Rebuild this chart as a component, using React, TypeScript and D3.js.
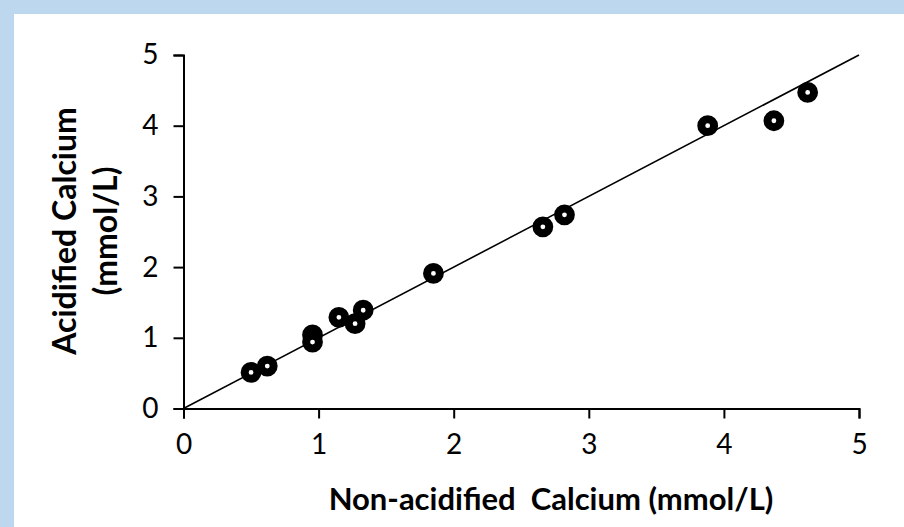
import React, { useEffect, useRef } from "react";
import * as d3 from "d3";

const xValues = [0.5, 0.62, 0.955, 0.955, 1.15, 1.27, 1.33, 1.85, 2.66, 2.82, 3.88, 4.37, 4.62];
const yValues = [0.51, 0.6, 1.04, 0.94, 1.29, 1.2, 1.39, 1.91, 2.57, 2.74, 4.0, 4.07, 4.47];
const xTicks = [0, 1, 2, 3, 4, 5];
const yTicks = [0, 1, 2, 3, 4, 5];
const identityLine = [0, 5];
const xTitle = "Non-acidified\u00a0 Calcium (mmol/L)";
const yTitleLines = ["Acidified Calcium", "(mmol/L)"];

const W = 904;
const H = 527;
const FONT = "Lato, 'Open Sans', sans-serif";

export default function App() {
  const ref = useRef<SVGSVGElement>(null);

  useEffect(() => {
    const svg = d3.select(ref.current);
    svg.selectAll("*").remove();

    svg.append("rect").attr("x", 0).attr("y", 0).attr("width", W).attr("height", H).attr("fill", "#BDD7EE");
    svg.append("rect").attr("x", 14).attr("y", 14).attr("width", W - 14).attr("height", H - 14).attr("fill", "#ffffff");

    const x = d3.scaleLinear().domain([0, 5]).range([183.5, 859]);
    const y = d3.scaleLinear().domain([0, 5]).range([408.5, 55]);

    const xAxis = d3.axisBottom(x).tickValues(xTicks).tickSize(10).tickSizeOuter(10).tickPadding(16).tickFormat(d3.format("d"));
    const yAxis = d3.axisLeft(y).tickValues(yTicks).tickSize(10).tickSizeOuter(10).tickPadding(15).tickFormat(d3.format("d"));

    const gx = svg.append("g").attr("transform", `translate(0,${y(0)})`).call(xAxis as any);
    const gy = svg.append("g").attr("transform", `translate(${x(0)},0)`).call(yAxis as any);

    [gx, gy].forEach((g) => {
      g.selectAll("path").attr("stroke", "#000").attr("stroke-width", 2);
      g.selectAll("line").attr("stroke", "#000").attr("stroke-width", 2);
      g.selectAll("text").attr("fill", "#000").attr("font-family", FONT).attr("font-size", 28);
    });

    const line = d3.line<number>().x((d) => x(d)).y((d) => y(d));
    svg.append("path").datum(identityLine).attr("d", line).attr("stroke", "#000").attr("stroke-width", 1.6).attr("fill", "none");

    svg
      .append("g")
      .selectAll("circle")
      .data(xValues.map((v, i) => [v, yValues[i]]))
      .join("circle")
      .attr("cx", (d) => x(d[0]))
      .attr("cy", (d) => y(d[1]))
      .attr("r", 6.4)
      .attr("fill", "#fff")
      .attr("stroke", "#000")
      .attr("stroke-width", 8);

    svg
      .append("text")
      .attr("x", 551)
      .attr("y", 510)
      .attr("text-anchor", "middle")
      .attr("font-family", FONT)
      .attr("font-weight", "bold")
      .attr("font-size", 31)
      .attr("fill", "#000")
      .text(xTitle);

    const yt = svg
      .append("text")
      .attr("transform", `translate(0,231) rotate(-90)`)
      .attr("text-anchor", "middle")
      .attr("font-family", FONT)
      .attr("font-weight", "bold")
      .attr("font-size", 32)
      .attr("fill", "#000");
    yt.append("tspan").attr("x", 0).attr("y", 76).text(yTitleLines[0]);
    yt.append("tspan").attr("x", 0).attr("y", 117).text(yTitleLines[1]);
  }, []);

  return (
    <svg ref={ref} width={W} height={H} style={{ position: "absolute", left: 0, top: 0, display: "block" }} />
  );
}
